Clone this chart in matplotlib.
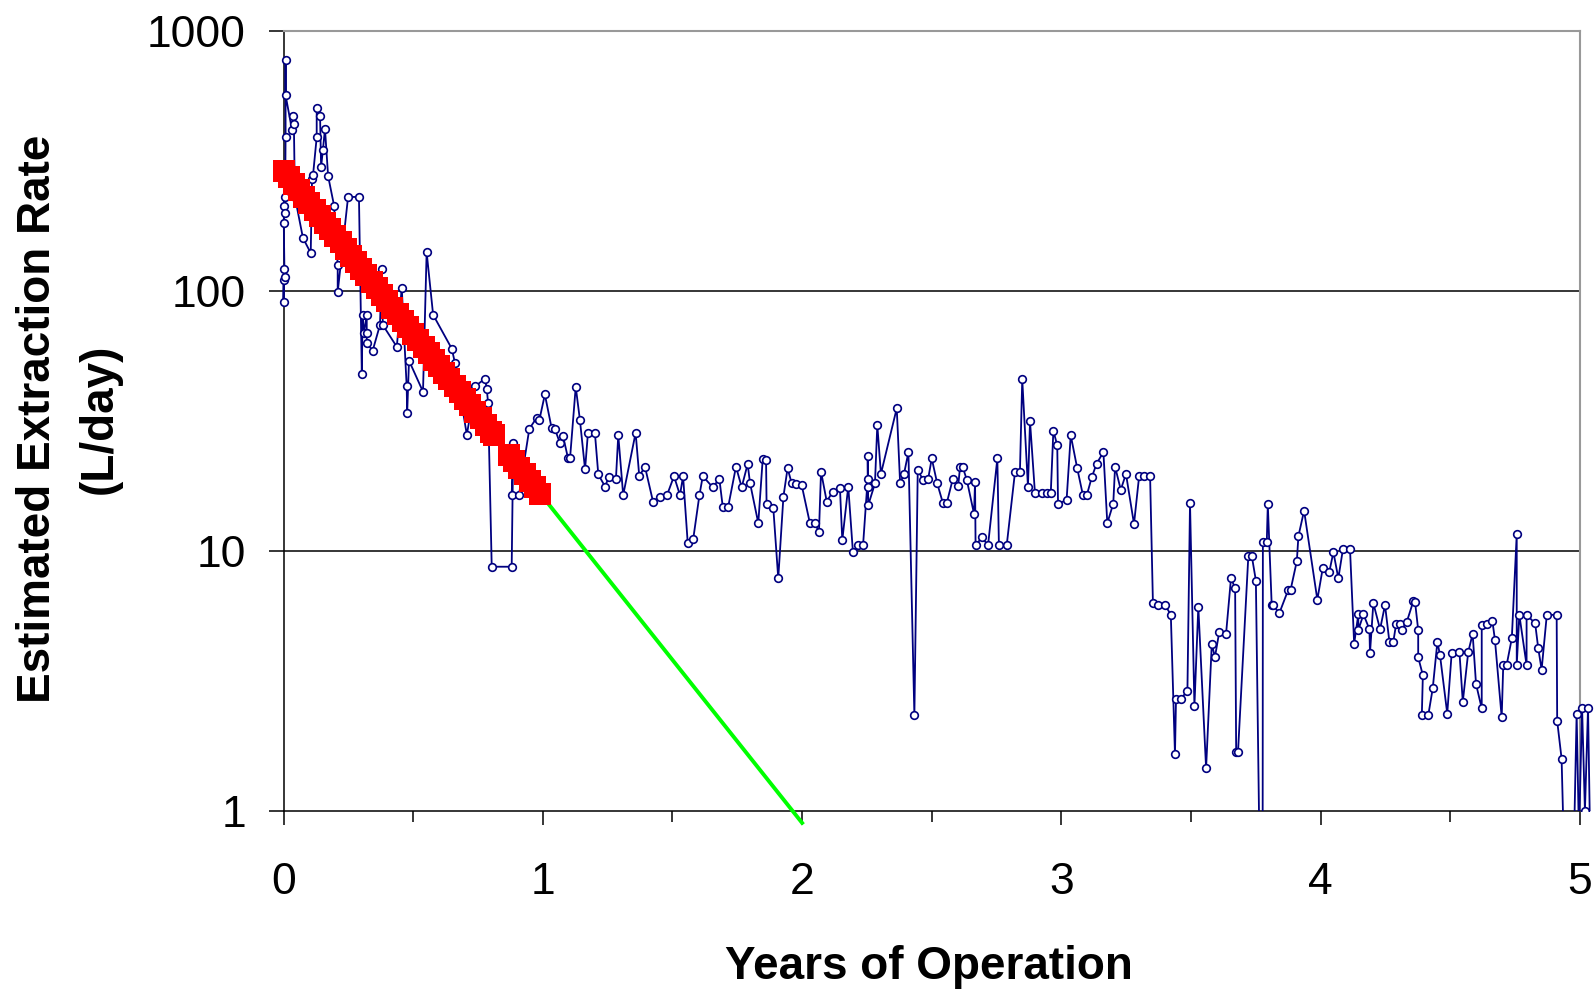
import matplotlib
matplotlib.use("Agg")
import matplotlib.pyplot as plt
from matplotlib.patches import Rectangle
from matplotlib.ticker import FixedLocator, NullLocator, FixedFormatter

plt.rcParams['font.family'] = ['Liberation Sans', 'DejaVu Sans']

# ---- data: measured extraction rate (L/day) vs years of operation ----
years = [0.000, 0.000, 0.002, 0.004, 0.001, 0.002, 0.004, 0.006, 0.008, 0.008,
         0.008, 0.033, 0.037, 0.040, 0.044, 0.075, 0.105, 0.110, 0.114, 0.128,
         0.128, 0.141, 0.145, 0.152, 0.160, 0.172, 0.195, 0.209, 0.209, 0.249,
         0.291, 0.302, 0.305, 0.310, 0.321, 0.321, 0.321, 0.344, 0.372, 0.379,
         0.383, 0.437, 0.456, 0.475, 0.477, 0.484, 0.538, 0.552, 0.577, 0.649,
         0.661, 0.707, 0.739, 0.777, 0.784, 0.789, 0.803, 0.880, 0.886, 0.880,
         0.908, 0.948, 0.976, 0.987, 1.008, 1.034, 1.047, 1.066, 1.078, 1.097,
         1.105, 1.127, 1.143, 1.163, 1.174, 1.201, 1.214, 1.240, 1.255, 1.282,
         1.291, 1.310, 1.358, 1.372, 1.394, 1.425, 1.452, 1.479, 1.506, 1.529,
         1.541, 1.559, 1.580, 1.604, 1.617, 1.655, 1.681, 1.694, 1.715, 1.745,
         1.767, 1.790, 1.799, 1.831, 1.848, 1.861, 1.863, 1.889, 1.908, 1.928,
         1.944, 1.960, 1.977, 1.998, 2.030, 2.050, 2.065, 2.073, 2.095, 2.118,
         2.146, 2.155, 2.178, 2.196, 2.216, 2.235, 2.253, 2.253, 2.253, 2.255,
         2.281, 2.290, 2.304, 2.365, 2.378, 2.393, 2.410, 2.433, 2.446, 2.466,
         2.486, 2.500, 2.521, 2.543, 2.558, 2.581, 2.602, 2.609, 2.619, 2.635,
         2.663, 2.667, 2.669, 2.694, 2.717, 2.753, 2.759, 2.789, 2.821, 2.840,
         2.849, 2.871, 2.879, 2.898, 2.925, 2.944, 2.959, 2.969, 2.984, 2.987,
         3.020, 3.036, 3.061, 3.083, 3.098, 3.117, 3.136, 3.162, 3.177, 3.200,
         3.207, 3.229, 3.249, 3.280, 3.300, 3.319, 3.342, 3.353, 3.373, 3.400,
         3.422, 3.438, 3.442, 3.461, 3.486, 3.496, 3.513, 3.528, 3.558, 3.580,
         3.592, 3.609, 3.635, 3.654, 3.670, 3.674, 3.681, 3.721, 3.734, 3.750,
         3.766, 3.776, 3.777, 3.792, 3.796, 3.811, 3.817, 3.840, 3.875, 3.884,
         3.908, 3.914, 3.936, 3.987, 4.008, 4.033, 4.049, 4.068, 4.086, 4.113,
         4.129, 4.145, 4.145, 4.165, 4.188, 4.190, 4.203, 4.229, 4.248, 4.265,
         4.280, 4.291, 4.306, 4.313, 4.332, 4.357, 4.364, 4.376, 4.376, 4.394,
         4.390, 4.415, 4.432, 4.450, 4.460, 4.488, 4.505, 4.535, 4.548, 4.569,
         4.586, 4.599, 4.621, 4.621, 4.640, 4.662, 4.672, 4.698, 4.704, 4.717,
         4.737, 4.756, 4.756, 4.766, 4.794, 4.794, 4.827, 4.839, 4.852, 4.872,
         4.910, 4.912, 4.929, 4.942, 4.973, 4.987, 4.996, 5.008, 5.019, 5.031,
         5.038]
rate = [110, 91, 121, 113, 183, 212, 230, 199, 391, 773,
        567, 415, 470, 440, 230, 160, 140, 270, 280, 390,
        506, 471, 300, 349, 420, 277, 213, 126, 99, 230,
        230, 48, 81, 69, 81, 69, 63, 59, 74, 121,
        74, 61, 103, 43, 34, 54, 41, 141, 81, 60,
        53, 28, 43, 46, 42, 37, 8.7, 8.7, 26, 16.4,
        16.4, 29.5, 32.5, 32, 40, 29.7, 29.4, 26, 27.7, 22.8,
        22.7, 42.8, 32, 20.6, 28.4, 28.4, 19.7, 17.7, 19.3, 18.9,
        27.9, 16.4, 28.5, 19.4, 21.1, 15.5, 16.2, 16.4, 19.4, 16.4,
        19.4, 10.7, 11.1, 16.4, 19.4, 17.6, 18.9, 14.8, 14.8, 21.1,
        17.6, 21.6, 18.3, 12.8, 22.5, 22.4, 15.1, 14.6, 7.85, 16.2,
        20.8, 18.2, 18.1, 18.0, 12.8, 12.8, 11.8, 20.2, 15.5, 16.9,
        17.4, 11.0, 17.7, 9.9, 10.5, 10.5, 19.0, 17.7, 23.2, 15.0,
        18.2, 30.5, 19.8, 35.4, 18.2, 19.8, 24.0, 2.33, 20.5, 18.8,
        18.9, 22.7, 18.2, 15.3, 15.3, 18.9, 17.8, 21.0, 21.1, 18.8,
        13.9, 18.5, 10.5, 11.3, 10.5, 22.7, 10.5, 10.5, 20.1, 20.1,
        45.7, 17.7, 31.5, 16.7, 16.7, 16.7, 16.7, 29.0, 25.5, 15.2,
        15.7, 27.9, 20.8, 16.4, 16.4, 19.2, 21.7, 24.0, 12.8, 15.2,
        21.1, 17.2, 19.8, 12.7, 19.5, 19.5, 19.5, 6.3, 6.2, 6.2,
        5.68, 1.65, 2.7, 2.7, 2.9, 15.3, 2.53, 6.1, 1.46, 4.4,
        3.9, 4.9, 4.8, 7.85, 7.2, 1.68, 1.68, 9.6, 9.6, 7.7,
        0.5, 0.5, 10.8, 10.8, 15.1, 6.2, 6.2, 5.75, 7.1, 7.1,
        9.15, 11.4, 14.3, 6.5, 8.6, 8.3, 9.9, 7.85, 10.2, 10.2,
        4.4, 5.7, 4.97, 5.7, 5.0, 4.04, 6.3, 5.0, 6.2, 4.47,
        4.47, 5.25, 5.25, 4.97, 5.34, 6.4, 6.35, 4.97, 3.9, 3.33,
        2.34, 2.34, 2.96, 4.47, 3.98, 2.37, 4.04, 4.09, 2.63, 4.09,
        4.8, 3.08, 2.48, 5.2, 5.25, 5.39, 4.55, 2.29, 3.64, 3.64,
        4.61, 11.6, 3.64, 5.68, 3.64, 5.68, 5.27, 4.22, 3.5, 5.68,
        5.68, 2.22, 1.59, 0.5, 0.5, 2.37, 0.8, 2.5, 1.0, 2.5,
        0.9]

# fitted decline (red markers) and its extrapolation (green line)
fit_years = [0.00, 0.02, 0.04, 0.06, 0.08, 0.10, 0.12, 0.14, 0.16, 0.18,
             0.20, 0.22, 0.24, 0.26, 0.28, 0.30, 0.32, 0.34, 0.36, 0.38,
             0.40, 0.42, 0.44, 0.46, 0.48, 0.50, 0.52, 0.54, 0.56, 0.58,
             0.60, 0.62, 0.64, 0.66, 0.68, 0.70, 0.72, 0.74, 0.76, 0.78,
             0.80, 0.81, 0.87, 0.89, 0.91, 0.93, 0.95, 0.97, 0.99]
fit_rate = [290, 273.7, 258.4, 243.9, 230.2, 217.3, 205.1, 193.6, 182.7, 172.5,
            162.8, 153.7, 145.1, 136.9, 129.3, 122.0, 115.2, 108.7, 102.6, 96.9,
            91.4, 86.3, 81.5, 76.9, 72.6, 68.5, 64.7, 61.1, 57.6, 54.4,
            51.4, 48.5, 45.8, 43.2, 40.8, 38.5, 36.3, 34.3, 32.4, 30.6,
            28.8, 28.0, 23.5, 22.2, 20.9, 19.8, 18.6, 17.6, 16.6]
extrap_years = [0.0, 2.0]
extrap_rate = [290, 0.9]

y_ticks = [1, 10, 100, 1000]
y_labels = ['1', '10', '100', '1000']
x_ticks = [0, 1, 2, 3, 4, 5]
x_labels = ['0', '1', '2', '3', '4', '5']

fig = plt.figure(figsize=(15.96, 9.91), dpi=100)
ax = fig.add_axes([283.5 / 1596, 1 - 811 / 991, (1580 - 283.5) / 1596, (811 - 31) / 991])
ax.set_yscale('log')
ax.set_xlim(0, 5)
ax.set_ylim(1, 1000)

clip = Rectangle((-0.02, 0), 1.04, 1.0, transform=ax.transAxes)

blue, = ax.plot(years, rate, color='#000080', lw=1.3, marker='o', ms=5.5,
                mfc='white', mec='#000080', mew=1.2, zorder=3)
blue.set_clip_path(clip)

ax.plot(extrap_years, extrap_rate, color='#00ff00', lw=2.8, zorder=4, clip_on=False)
ax.plot(fit_years, fit_rate, linestyle='none', marker='s', ms=15.5,
        mfc='#ff0000', mec='#ff0000', mew=0, zorder=5, clip_on=False)

# gridlines at decades
for v in [10, 100]:
    ax.axhline(v, color='black', lw=1.1, zorder=1)

ax.yaxis.set_major_locator(FixedLocator(y_ticks))
ax.yaxis.set_major_formatter(FixedFormatter(y_labels))
ax.yaxis.set_minor_locator(NullLocator())
ax.xaxis.set_major_locator(FixedLocator(x_ticks))
ax.xaxis.set_major_formatter(FixedFormatter(x_labels))
ax.xaxis.set_minor_locator(FixedLocator([0.5, 1.5, 2.5, 3.5, 4.5]))

ax.tick_params(axis='y', which='major', direction='out', length=11, width=1.1,
               labelsize=32, pad=16)
ax.tick_params(axis='x', which='major', direction='out', length=10, width=1.1,
               labelsize=32, pad=27)
ax.tick_params(axis='x', which='minor', direction='out', length=8, width=1.1)

for s in ['left', 'bottom']:
    ax.spines[s].set_color('black')
    ax.spines[s].set_linewidth(1.1)
for s in ['top', 'right']:
    ax.spines[s].set_color('#999999')
    ax.spines[s].set_linewidth(1.5)

fig.text(929 / 1596, 0.012, 'Years of Operation', ha='center', va='baseline',
         fontsize=33, fontweight='bold')
fig.text(38 / 1596, 1 - 419 / 991, 'Estimated Extraction Rate', rotation=90,
         ha='center', va='center', fontsize=33, fontweight='bold')
fig.text(100 / 1596, 1 - 419 / 991, '(L/day)', rotation=90,
         ha='center', va='center', fontsize=33, fontweight='bold')

fig.savefig('out.png', dpi=100)
